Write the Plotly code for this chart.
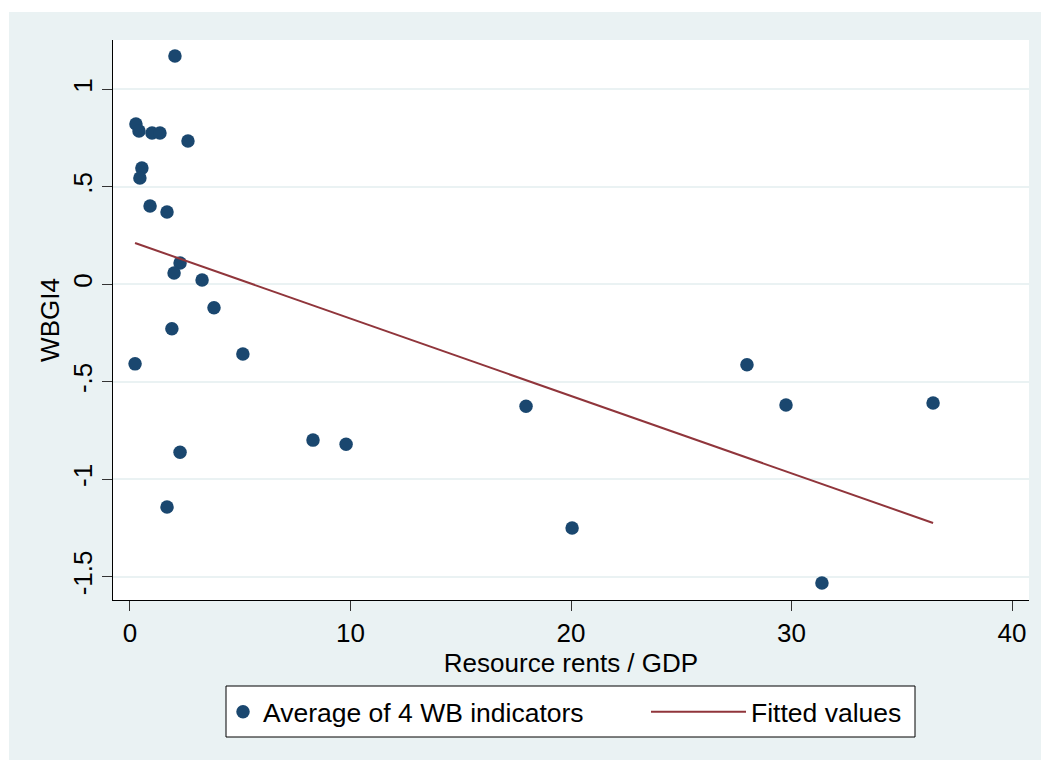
import plotly.graph_objects as go

# Data
rent_gdp = [2.04, 0.27, 0.41, 1.00, 1.36, 2.63, 0.54, 0.45, 0.91, 1.68,
            2.27, 2.00, 3.27, 3.81, 1.90, 0.23, 5.12, 2.27, 8.30, 9.80,
            1.68, 17.96, 20.05, 27.98, 29.75, 31.38, 36.42]
wbgi4 = [1.171, 0.822, 0.786, 0.776, 0.776, 0.735, 0.596, 0.545, 0.402, 0.371,
         0.109, 0.058, 0.022, -0.120, -0.228, -0.408, -0.357, -0.861, -0.799, -0.820,
         -1.142, -0.625, -1.250, -0.413, -0.619, -1.532, -0.609]
fit_x = [0.23, 36.42]
fit_y = [0.212, -1.224]

x_ticks = [0, 10, 20, 30, 40]
y_ticks = [-1.5, -1, -0.5, 0, 0.5, 1]
y_tick_text = ["-1.5", "-1", "-.5", "0", ".5", "1"]

BG = "#EAF2F3"
NAVY = "#1A476F"
MAROON = "#90353B"
FONT = "Liberation Sans, Arial, sans-serif"

fig = go.Figure()
fig.add_trace(go.Scatter(
    x=rent_gdp, y=wbgi4, mode="markers", name="Average of 4 WB indicators",
    marker=dict(color=NAVY, size=13.5, line=dict(width=0)),
    legend="legend",
))
fig.add_trace(go.Scatter(
    x=fit_x, y=fit_y, mode="lines", name="Fitted values",
    line=dict(color=MAROON, width=2),
    legend="legend2",
))

W, H = 1041, 762
L, R, T, B = 113, 12, 40, 162
pw, ph = W - L - R, H - T - B

def px_x(p):
    return (p - L) / pw

def px_y(p):
    return (H - B - p) / ph

legend_common = dict(
    orientation="h", yanchor="middle", y=px_y(712),
    bgcolor="rgba(0,0,0,0)", borderwidth=0, font=dict(size=26.5),
)

fig.update_layout(
    width=W, height=H,
    margin=dict(l=L, r=R, t=T, b=B, autoexpand=False),
    paper_bgcolor=BG, plot_bgcolor="white",
    font=dict(family=FONT, size=26, color="black"),
    showlegend=True,
    legend=dict(x=px_x(223), xanchor="left", itemwidth=30, **legend_common),
    legend2=dict(x=px_x(646), xanchor="left", itemwidth=95, **legend_common),
    xaxis=dict(
        range=[-0.77, 40.77], tickvals=x_ticks, ticks="outside", ticklen=10,
        tickcolor="#333333", showline=True, linecolor="black", linewidth=1,
        showgrid=False, zeroline=False,
        title=dict(text="Resource rents / GDP", font=dict(size=26), standoff=0),
        tickfont=dict(size=26),
    ),
    yaxis=dict(
        range=[-1.619, 1.253], tickvals=y_ticks, ticktext=y_tick_text,
        tickangle=-90, ticks="outside", ticklen=10, tickcolor="#333333",
        showline=True, linecolor="black", linewidth=1,
        showgrid=True, gridcolor=BG, gridwidth=2, zeroline=False,
        title=dict(text="WBGI4", font=dict(size=26), standoff=0),
        tickfont=dict(size=26),
    ),
    shapes=[
        dict(type="rect", xref="paper", yref="paper", layer="below",
             x0=px_x(0), x1=px_x(9), y0=px_y(762), y1=px_y(0),
             fillcolor="white", line=dict(width=0)),
        dict(type="rect", xref="paper", yref="paper", layer="below",
             x0=px_x(0), x1=px_x(1041), y0=px_y(12), y1=px_y(0),
             fillcolor="white", line=dict(width=0)),
        dict(type="rect", xref="paper", yref="paper", layer="below",
             x0=px_x(0), x1=px_x(1041), y0=px_y(762), y1=px_y(760),
             fillcolor="white", line=dict(width=0)),
        # legend frame
        dict(type="rect", xref="paper", yref="paper", layer="above",
             x0=px_x(226), x1=px_x(915), y0=px_y(737), y1=px_y(686),
             fillcolor="white", line=dict(color="black", width=1)),
    ],
)

fig.write_html("out.html")
